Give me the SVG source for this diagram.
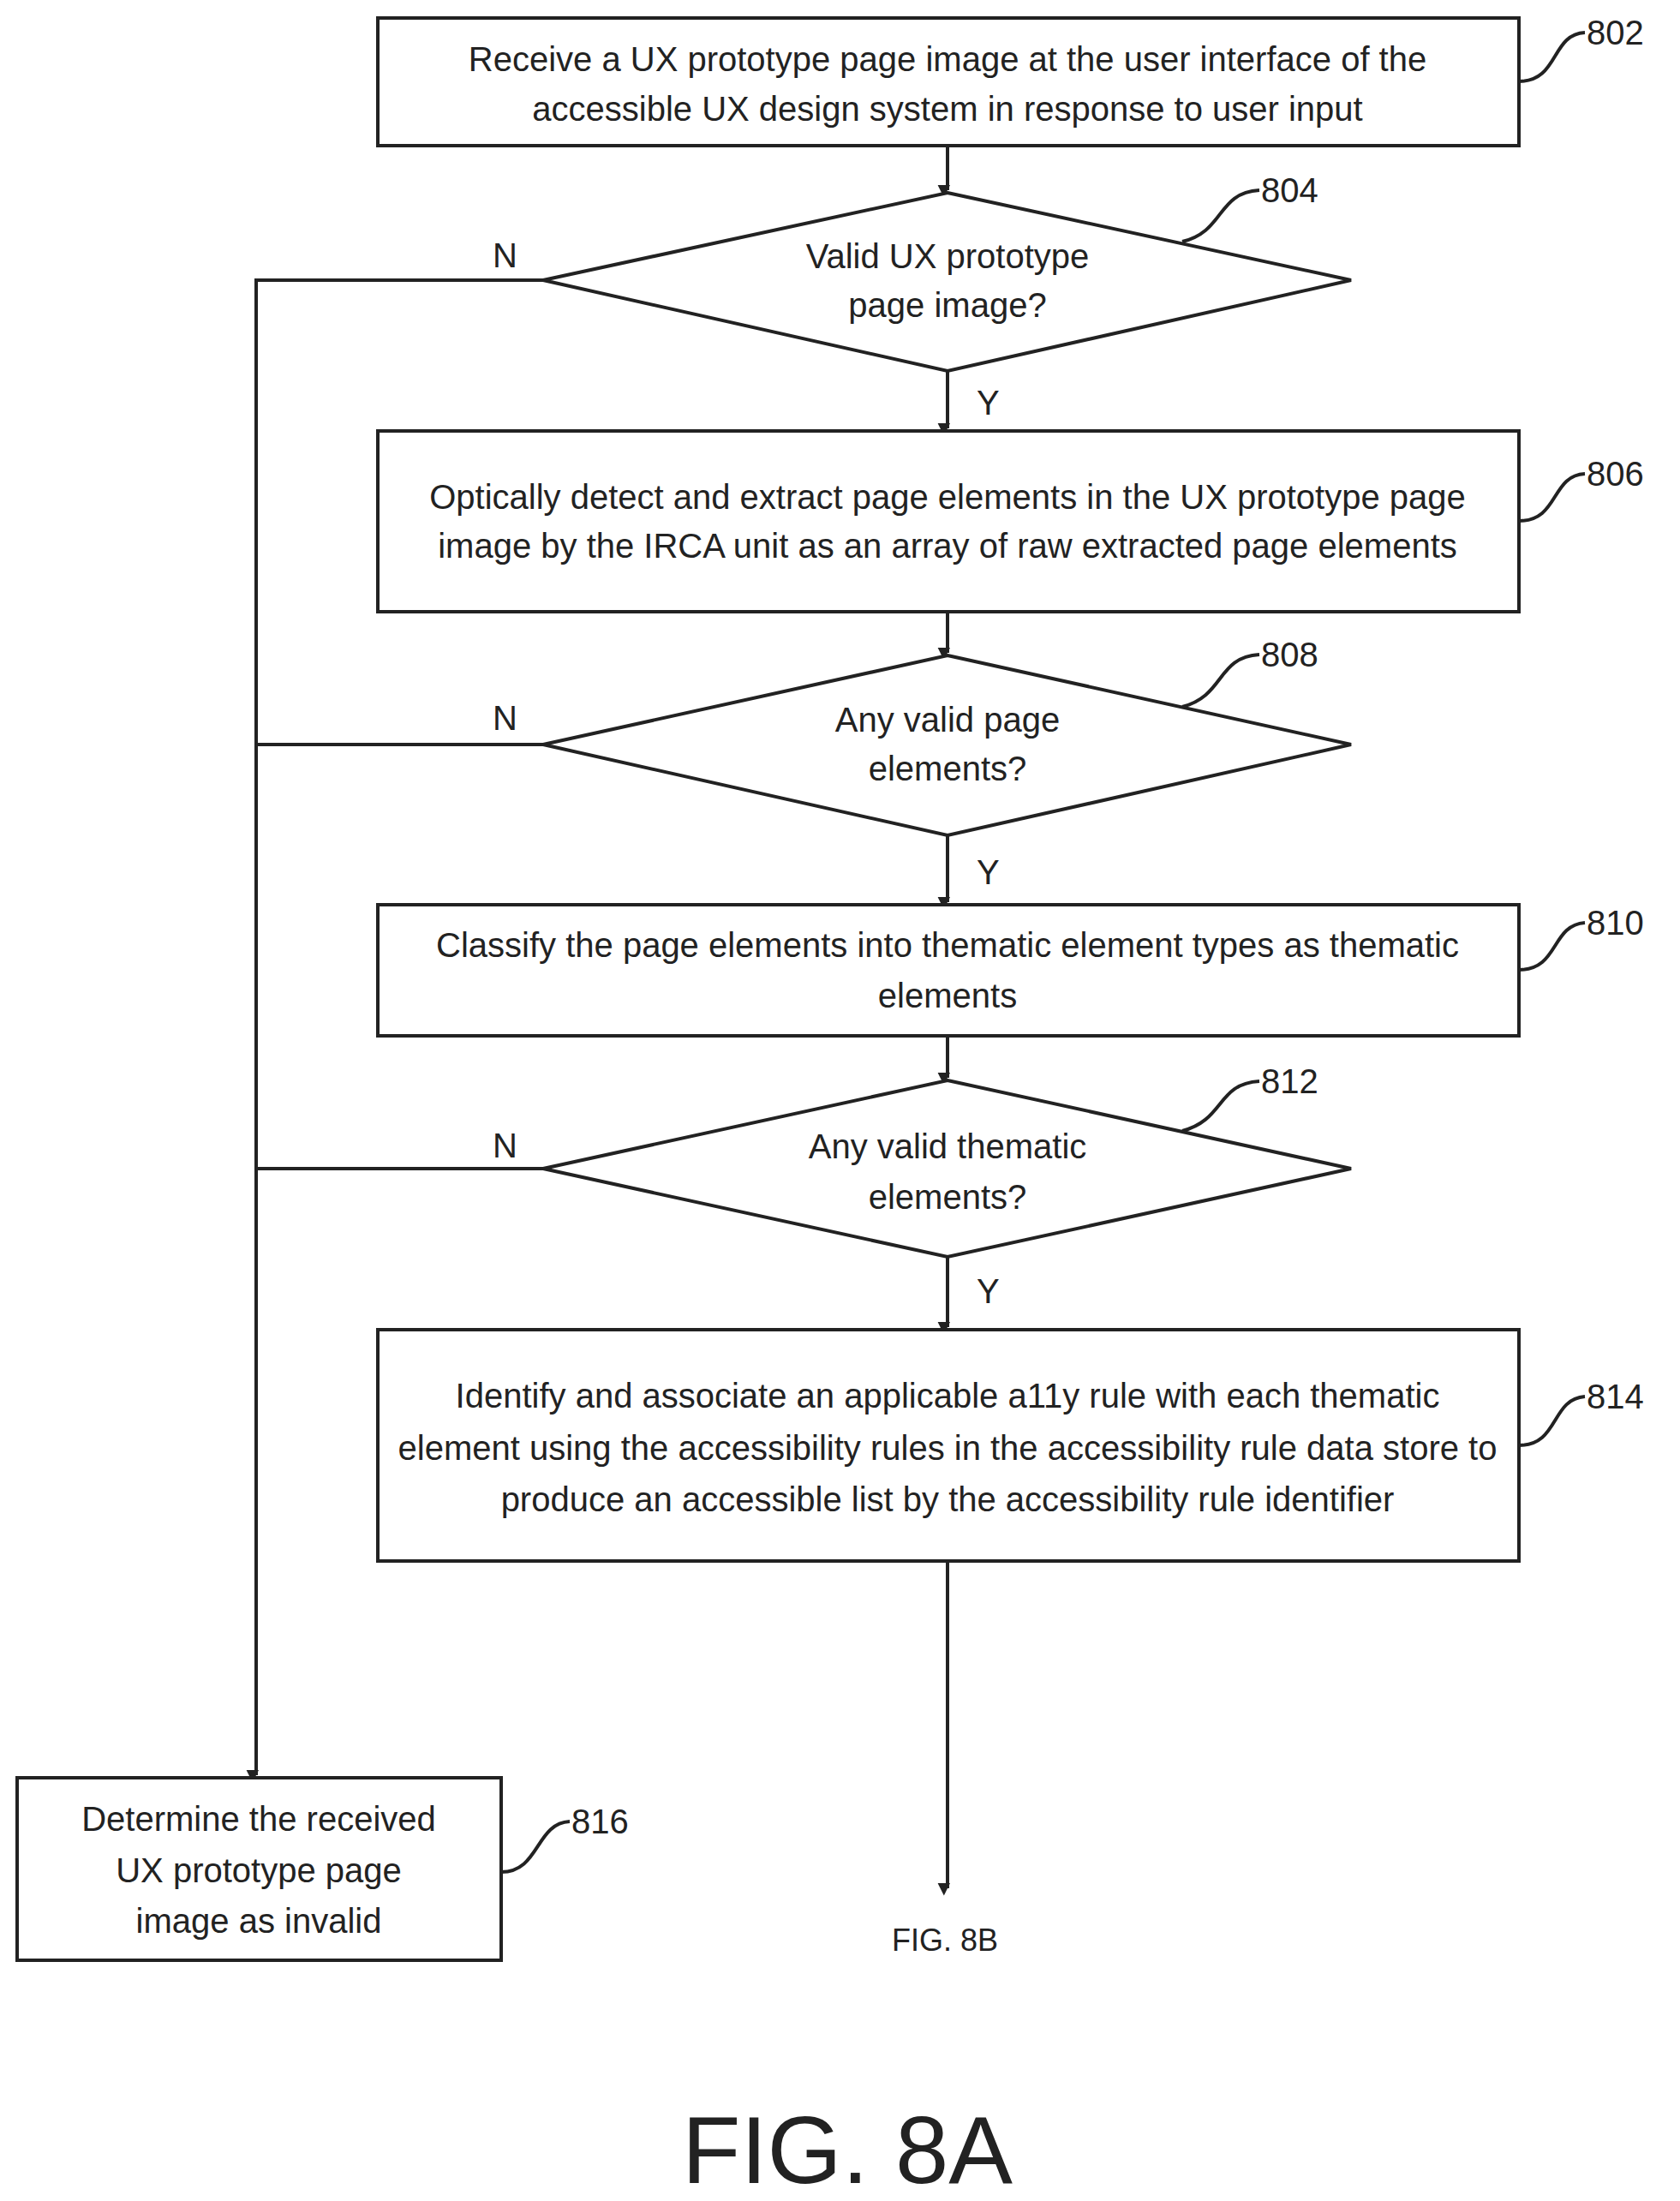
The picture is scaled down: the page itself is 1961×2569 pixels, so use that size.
<svg xmlns="http://www.w3.org/2000/svg" width="1961" height="2569" viewBox="0 0 1961 2569">
<style>
.b{fill:#fff;stroke:#222;stroke-width:4}
.l{fill:none;stroke:#222;stroke-width:4}
.t{font-family:"Liberation Sans",Arial,sans-serif;font-size:40px;fill:#222;text-anchor:middle}
.r{font-family:"Liberation Sans",Arial,sans-serif;font-size:40px;fill:#222}
</style>
<defs><marker id="a" viewBox="0 0 10 10" refX="10" refY="5" markerWidth="6" markerHeight="6" orient="auto" markerUnits="userSpaceOnUse" style="overflow:visible"><path d="M0,0 L10,5 L0,10 Z" fill="#222" transform="scale(2.4)"/></marker></defs>
<rect width="1961" height="2569" fill="#fff"/>
<g id="connectors">
<path class="l" d="M1106 170 V222" marker-end="url(#a)"/>
<path class="l" d="M1106 433 V500" marker-end="url(#a)"/>
<path class="l" d="M1106 714 V762" marker-end="url(#a)"/>
<path class="l" d="M1106 975 V1053" marker-end="url(#a)"/>
<path class="l" d="M1106 1209 V1258" marker-end="url(#a)"/>
<path class="l" d="M1106 1467 V1549" marker-end="url(#a)"/>
<path class="l" d="M1106 1822 V2204" marker-end="url(#a)"/>
<path class="l" d="M634 327 H299 V2072" marker-end="url(#a)"/>
<path class="l" d="M634 869 H299"/>
<path class="l" d="M634 1364 H299"/>
<text class="r" x="575" y="312">N</text>
<text class="r" x="575" y="852">N</text>
<text class="r" x="575" y="1351">N</text>
<text class="r" x="1140" y="484">Y</text>
<text class="r" x="1140" y="1032">Y</text>
<text class="r" x="1140" y="1521">Y</text>
</g>
<g id="n802"><rect class="b" x="441" y="21" width="1332" height="149"/>
<text class="t" x="1106" y="83">Receive a UX prototype page image at the user interface of the</text>
<text class="t" x="1106" y="141">accessible UX design system in response to user input</text>
<path class="l" d="M1773 95 C1820 95 1810 40 1850 38"/><text class="r" x="1852" y="52">802</text></g>
<g id="n804"><polygon class="b" points="1106,225 1577,327 1106,433 634,327"/>
<text class="t" x="1106" y="313">Valid UX prototype</text>
<text class="t" x="1106" y="370">page image?</text>
<path class="l" d="M1380 282 C1430 270 1420 225 1470 222"/><text class="r" x="1472" y="236">804</text></g>
<g id="n806"><rect class="b" x="441" y="503" width="1332" height="211"/>
<text class="t" x="1106" y="594">Optically detect and extract page elements in the UX prototype page</text>
<text class="t" x="1106" y="651">image by the IRCA unit as an array of raw extracted page elements</text>
<path class="l" d="M1773 608 C1820 608 1810 555 1850 553"/><text class="r" x="1852" y="567">806</text></g>
<g id="n808"><polygon class="b" points="1106,765 1577,869 1106,975 634,869"/>
<text class="t" x="1106" y="854">Any valid page</text>
<text class="t" x="1106" y="911">elements?</text>
<path class="l" d="M1380 825 C1430 812 1420 767 1470 764"/><text class="r" x="1472" y="778">808</text></g>
<g id="n810"><rect class="b" x="441" y="1056" width="1332" height="153"/>
<text class="t" x="1106" y="1117">Classify the page elements into thematic element types as thematic</text>
<text class="t" x="1106" y="1176">elements</text>
<path class="l" d="M1773 1132 C1820 1132 1810 1080 1850 1077"/><text class="r" x="1852" y="1091">810</text></g>
<g id="n812"><polygon class="b" points="1106,1261 1577,1364 1106,1467 634,1364"/>
<text class="t" x="1106" y="1352">Any valid thematic</text>
<text class="t" x="1106" y="1411">elements?</text>
<path class="l" d="M1380 1320 C1430 1307 1420 1265 1470 1262"/><text class="r" x="1472" y="1276">812</text></g>
<g id="n814"><rect class="b" x="441" y="1552" width="1332" height="270"/>
<text class="t" x="1106" y="1643">Identify and associate an applicable a11y rule with each thematic</text>
<text class="t" x="1106" y="1704">element using the accessibility rules in the accessibility rule data store to</text>
<text class="t" x="1106" y="1764">produce an accessible list by the accessibility rule identifier</text>
<path class="l" d="M1773 1687 C1820 1687 1810 1633 1850 1630"/><text class="r" x="1852" y="1644">814</text></g>
<g id="n816"><rect class="b" x="20" y="2075" width="565" height="213"/>
<text class="t" x="302" y="2137">Determine the received</text>
<text class="t" x="302" y="2197">UX prototype page</text>
<text class="t" x="302" y="2256">image as invalid</text>
<path class="l" d="M585 2185 C630 2185 625 2128 665 2126"/><text class="r" x="667" y="2140">816</text></g>
<text class="t" x="1103" y="2277" style="font-size:36px">FIG. 8B</text>
<text class="t" x="989" y="2548" style="font-size:112px">FIG. 8A</text>
</svg>
